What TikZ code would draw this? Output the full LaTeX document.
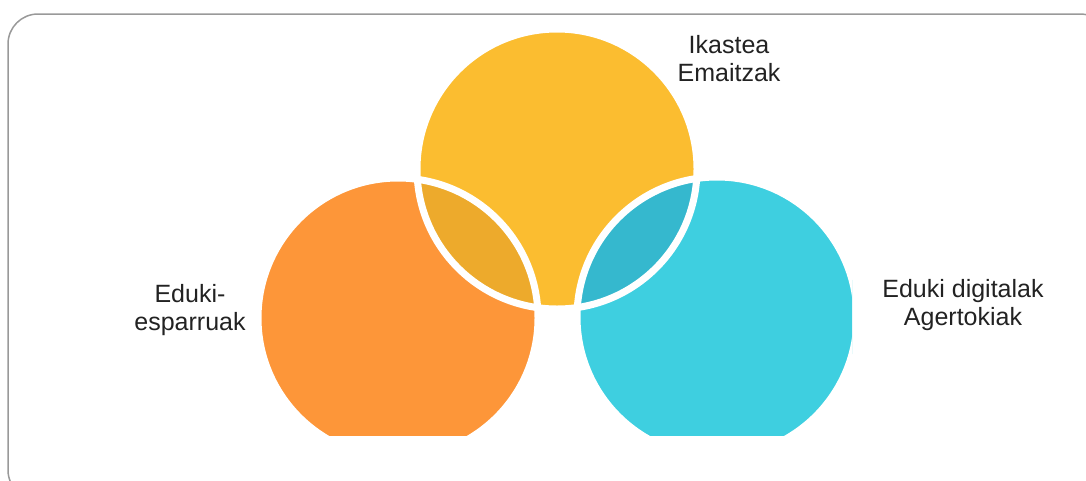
\documentclass[tikz,border=0pt]{standalone}
\usepackage{fontspec}
\setmainfont{Liberation Sans}
\definecolor{sunyellow}{HTML}{FBBD30}
\definecolor{warmorange}{HTML}{FD9639}
\definecolor{skycyan}{HTML}{3ECFE0}
\definecolor{lensorange}{HTML}{EDAA2C}
\definecolor{lenscyan}{HTML}{35B8CE}
\definecolor{inkgray}{HTML}{222222}
\tikzset{lbl/.style={align=center, text=inkgray, font=\fontsize{25}{28}\selectfont}}

\begin{document}
\begin{tikzpicture}[x=1pt,y=-1pt]
	%%%%% START %%%%%
	\useasboundingbox (0,0) rectangle (1086,480);
	% frame, runs off the right and bottom edge
	\begin{scope}
		\clip (0,0) rectangle (1086,480);
		\draw[line width=1.5pt, draw=black!40, rounded corners=30pt] (8,14) rectangle (1110,500);
	\end{scope}
	
	\coordinate (yel) at (557,169);
	\coordinate (ora) at (398,318);
	\coordinate (cya) at (717,317);
	
	\begin{scope}
		\clip (0,0) rectangle (852,435);
		\fill[warmorange] (ora) circle (140pt);
		\fill[skycyan] (cya) circle (140pt);
		\fill[sunyellow] (yel) circle (140pt);
		% overlaps
		\begin{scope}
			\clip (yel) circle (140pt);
			\fill[lensorange] (ora) circle (140pt);
			\fill[lenscyan] (cya) circle (140pt);
		\end{scope}
		\draw[white, line width=7pt] (ora) circle (140pt);
		\draw[white, line width=7pt] (cya) circle (140pt);
		\draw[white, line width=7pt] (yel) circle (140pt);
	\end{scope}
	
	\node[lbl] (learn) at (729,59) {Ikastea\\Emaitzak};
	\node[lbl] (frame) at (190,310) {Eduki-\\esparruak};
	\node[lbl] (digital) at (963,305) {Eduki digitalak\\Agertokiak};
	%%%%% END %%%%%
\end{tikzpicture}
\end{document}
